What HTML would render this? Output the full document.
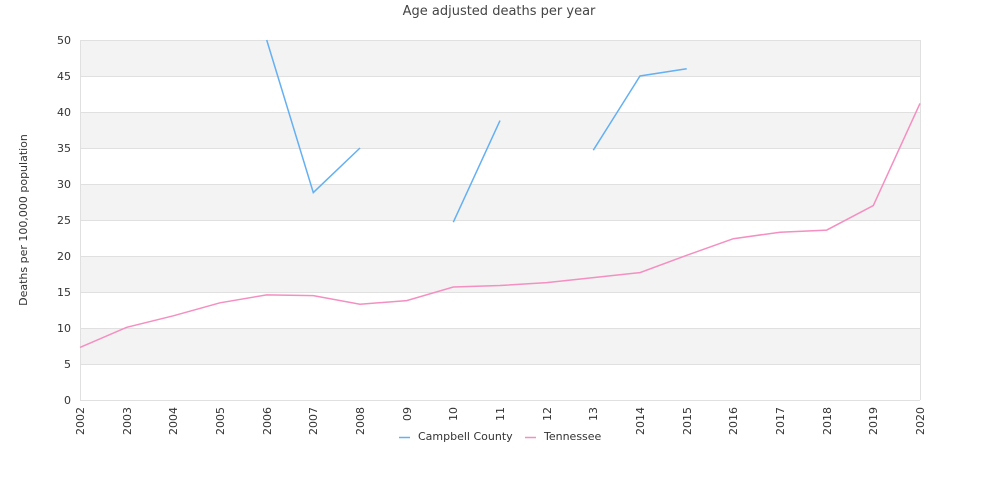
<!DOCTYPE html><html><head><style>body{margin:0;background:#fff}svg{display:block;font-family:"DejaVu Sans","Liberation Sans",sans-serif}</style></head><body>
<svg width="1000" height="500" xmlns="http://www.w3.org/2000/svg">
<text x="499" y="15" font-size="13" fill="#444" text-anchor="middle">Age adjusted deaths per year</text>
<g fill="#f3f3f3"><rect x="80" y="40" width="840" height="36"/><rect x="80" y="112" width="840" height="36"/><rect x="80" y="184" width="840" height="36"/><rect x="80" y="256" width="840" height="36"/><rect x="80" y="328" width="840" height="36"/></g>
<g stroke="#e0e0e0" stroke-width="1"><line x1="80" y1="40.5" x2="920" y2="40.5"/><line x1="80" y1="76.5" x2="920" y2="76.5"/><line x1="80" y1="112.5" x2="920" y2="112.5"/><line x1="80" y1="148.5" x2="920" y2="148.5"/><line x1="80" y1="184.5" x2="920" y2="184.5"/><line x1="80" y1="220.5" x2="920" y2="220.5"/><line x1="80" y1="256.5" x2="920" y2="256.5"/><line x1="80" y1="292.5" x2="920" y2="292.5"/><line x1="80" y1="328.5" x2="920" y2="328.5"/><line x1="80" y1="364.5" x2="920" y2="364.5"/><line x1="80" y1="400.5" x2="920" y2="400.5"/><line x1="80.5" y1="40" x2="80.5" y2="400"/><line x1="920.5" y1="40" x2="920.5" y2="400"/></g>
<g font-size="11" fill="#333" text-anchor="end"><text x="71" y="44">50</text><text x="71" y="80">45</text><text x="71" y="116">40</text><text x="71" y="152">35</text><text x="71" y="188">30</text><text x="71" y="224">25</text><text x="71" y="260">20</text><text x="71" y="296">15</text><text x="71" y="332">10</text><text x="71" y="368">5</text><text x="71" y="404">0</text></g>
<text transform="translate(27,220) rotate(-90)" font-size="11" fill="#333" text-anchor="middle">Deaths per 100,000 population</text>
<g font-size="11" fill="#333" text-anchor="end">
<text transform="translate(84,407) rotate(-90)">2002</text>
<text transform="translate(131,407) rotate(-90)">2003</text>
<text transform="translate(177,407) rotate(-90)">2004</text>
<text transform="translate(224,407) rotate(-90)">2005</text>
<text transform="translate(271,407) rotate(-90)">2006</text>
<text transform="translate(317,407) rotate(-90)">2007</text>
<text transform="translate(364,407) rotate(-90)">2008</text>
<text transform="translate(411,407) rotate(-90)">09</text>
<text transform="translate(457,407) rotate(-90)">10</text>
<text transform="translate(504,407) rotate(-90)">11</text>
<text transform="translate(551,407) rotate(-90)">12</text>
<text transform="translate(597,407) rotate(-90)">13</text>
<text transform="translate(644,407) rotate(-90)">2014</text>
<text transform="translate(691,407) rotate(-90)">2015</text>
<text transform="translate(737,407) rotate(-90)">2016</text>
<text transform="translate(784,407) rotate(-90)">2017</text>
<text transform="translate(831,407) rotate(-90)">2018</text>
<text transform="translate(877,407) rotate(-90)">2019</text>
<text transform="translate(924,407) rotate(-90)">2020</text>
</g>
<g fill="none" stroke-width="1.5">
<polyline stroke="#f48fc1" points="80,347.4 126.7,327.3 173.3,315.8 220,302.8 266.7,294.9 313.3,295.6 360,304.2 406.7,300.6 453.3,287 500,285.5 546.7,282.6 593.3,277.6 640,272.6 686.7,255.3 733.3,238.7 780,232.2 826.7,230.1 873.3,205.6 920,103.4"/>
<g stroke="#64b0f2"><polyline points="266.7,40 313.3,192.6 360,148"/><polyline points="453.3,222.2 500,120.6"/><polyline points="593.3,150.2 640,76 686.7,68.8"/></g>
</g>
<line x1="399" y1="437.5" x2="410" y2="437.5" stroke="#64b0f2" stroke-width="1.5"/>
<text x="418" y="440" font-size="11" fill="#333">Campbell County</text>
<line x1="525" y1="437.5" x2="536" y2="437.5" stroke="#f48fc1" stroke-width="1.5"/>
<text x="544" y="440" font-size="11" fill="#333">Tennessee</text>
</svg></body></html>
